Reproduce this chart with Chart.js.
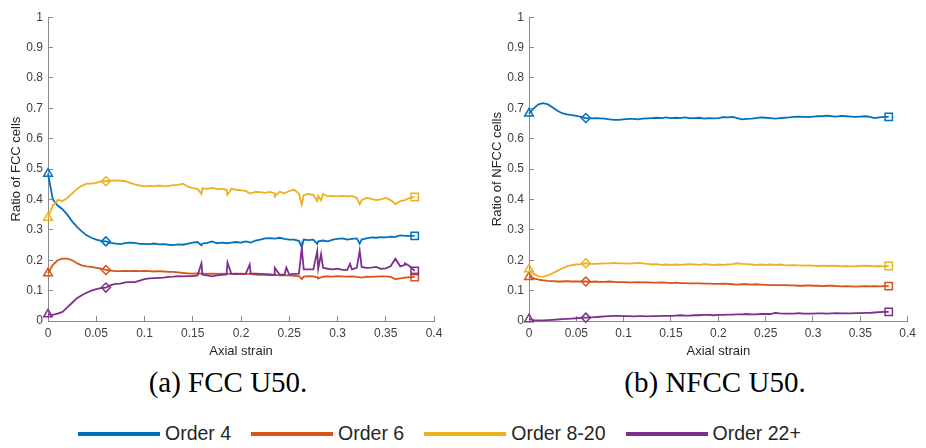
<!DOCTYPE html>
<html>
<head>
<meta charset="utf-8">
<script src="https://cdn.jsdelivr.net/npm/chart.js@4.4.0/dist/chart.umd.min.js"></script>
<style>
  body { margin: 0; background: #fff; width: 926px; height: 448px; overflow: hidden; position: relative; font-family: "Liberation Sans", Arial, sans-serif; }
  .plot { position: absolute; top: 0; height: 360px; }
  #fccBox { left: 0; width: 460px; }
  #nfccBox { left: 481px; width: 445px; }
  .caption { position: absolute; top: 366px; font-family: "Liberation Serif", serif; font-size: 29px; color: #000; transform: translateX(-50%); white-space: nowrap; }
  #legend { position: absolute; left: 78px; top: 422px; display: flex; align-items: center; font-size: 19.5px; color: #262626; }
  .item { display: flex; align-items: center; margin-right: 20px; }
  .swatch { width: 82px; height: 4px; margin-right: 5px; }
</style>
</head>
<body>
<div class="plot" id="fccBox"><canvas id="fccChart"></canvas></div>
<div class="plot" id="nfccBox"><canvas id="nfccChart"></canvas></div>
<div class="caption" style="left:228px">(a) FCC U50.</div>
<div class="caption" style="left:715px">(b) NFCC U50.</div>
<div id="legend"></div>

<script>
// series names + matlab default colours
const seriesNames = ['Order 4', 'Order 6', 'Order 8-20', 'Order 22+'];
const seriesColors = ['#0072BD', '#D95319', '#EDB120', '#7E2F8E'];

// axial strain samples
const strain = [
  0, 0.005, 0.01, 0.015, 0.02, 0.025, 0.03, 0.035, 0.04, 0.045,
  0.05, 0.055, 0.06, 0.065, 0.07, 0.075, 0.08, 0.085, 0.09, 0.095,
  0.1, 0.105, 0.11, 0.115, 0.12, 0.125, 0.13, 0.135, 0.14, 0.145,
  0.15, 0.155, 0.16, 0.165, 0.17, 0.175, 0.18, 0.185, 0.19, 0.195,
  0.2, 0.205, 0.21, 0.215, 0.22, 0.225, 0.23, 0.235, 0.24, 0.245,
  0.25, 0.255, 0.26, 0.265, 0.27, 0.275, 0.28, 0.285, 0.29, 0.295,
  0.3, 0.305, 0.31, 0.315, 0.32, 0.325, 0.33, 0.335, 0.34, 0.345,
  0.35, 0.355, 0.36, 0.365, 0.37, 0.375, 0.38
];

// (a) FCC U50
const fccOrder4 = [
  0.485, 0.40, 0.38, 0.368, 0.35, 0.328, 0.31, 0.295, 0.282, 0.274,
  0.268, 0.264, 0.262, 0.257, 0.255, 0.253, 0.256, 0.258, 0.257, 0.254,
  0.254, 0.253, 0.255, 0.252, 0.253, 0.251, 0.25, 0.252, 0.251, 0.255,
  0.258, 0.26, 0.255, 0.257, 0.262, 0.256, 0.258, 0.256, 0.258, 0.26,
  0.258, 0.262, 0.258, 0.265, 0.268, 0.272, 0.273, 0.271, 0.274, 0.27,
  0.268, 0.268, 0.264, 0.268, 0.266, 0.268, 0.262, 0.265, 0.262, 0.268,
  0.27, 0.272, 0.268, 0.27, 0.272, 0.268, 0.272, 0.275, 0.274, 0.276,
  0.275, 0.278, 0.277, 0.282, 0.28, 0.28, 0.28
];
const fccOrder6 = [
  0.157, 0.185, 0.2, 0.205, 0.205, 0.2, 0.19, 0.183, 0.18, 0.178,
  0.175, 0.172, 0.168, 0.166, 0.164, 0.164, 0.165, 0.164, 0.165, 0.164,
  0.165, 0.164, 0.163, 0.164, 0.163, 0.162, 0.162, 0.16, 0.158, 0.157,
  0.156, 0.157, 0.156, 0.155, 0.156, 0.155, 0.156, 0.155, 0.156, 0.154,
  0.156, 0.155, 0.154, 0.153, 0.152, 0.152, 0.151, 0.152, 0.15, 0.151,
  0.15, 0.149, 0.148, 0.146, 0.148, 0.147, 0.143, 0.146, 0.147, 0.146,
  0.148, 0.147, 0.146, 0.147, 0.145, 0.143, 0.146, 0.145, 0.146, 0.147,
  0.147, 0.145, 0.138, 0.14, 0.143, 0.144, 0.145
];
const fccOrder820 = [
  0.34, 0.38, 0.398, 0.395, 0.405, 0.42, 0.435, 0.445, 0.452, 0.452,
  0.455, 0.46, 0.46, 0.462, 0.463, 0.462, 0.46, 0.455, 0.45, 0.446,
  0.443, 0.445, 0.443, 0.446, 0.443, 0.445, 0.447, 0.448, 0.452, 0.442,
  0.437, 0.435, 0.437, 0.435, 0.438, 0.434, 0.436, 0.432, 0.435, 0.432,
  0.43, 0.428, 0.42, 0.425, 0.424, 0.422, 0.425, 0.42, 0.425, 0.42,
  0.428, 0.432, 0.42, 0.415, 0.418, 0.415, 0.412, 0.418, 0.41, 0.412,
  0.41, 0.412, 0.41, 0.412, 0.405, 0.398, 0.405, 0.402, 0.398, 0.4,
  0.405, 0.398, 0.385, 0.395, 0.398, 0.405, 0.408
];
const fccOrder22 = [
  0.022, 0.02, 0.024, 0.03, 0.045, 0.06, 0.075, 0.085, 0.093, 0.1,
  0.105, 0.108, 0.11, 0.118, 0.122, 0.123, 0.127, 0.128, 0.128, 0.133,
  0.138, 0.14, 0.141, 0.142, 0.143, 0.145, 0.146, 0.148, 0.147, 0.148,
  0.148, 0.15, 0.152, 0.15, 0.147, 0.15, 0.152, 0.153, 0.155, 0.156,
  0.155, 0.156, 0.157, 0.156, 0.155, 0.154, 0.153, 0.152, 0.153, 0.152,
  0.153, 0.155, 0.156, 0.17, 0.17, 0.17, 0.172, 0.175, 0.172, 0.17,
  0.172, 0.168, 0.168, 0.17, 0.175, 0.178, 0.175, 0.176, 0.178, 0.172,
  0.173, 0.18, 0.205, 0.18, 0.185, 0.18, 0.165
];

// narrow spikes / dips between samples in (a)
const fcc4SpikeX = [0.159, 0.263, 0.279, 0.323];
const fcc4SpikeY = [0.249, 0.243, 0.254, 0.255];
const fcc6SpikeX = [0.263, 0.28];
const fcc6SpikeY = [0.138, 0.14];
const fcc820SpikeX = [0.159, 0.186, 0.209, 0.235, 0.263, 0.279, 0.283, 0.323];
const fcc820SpikeY = [0.418, 0.415, 0.42, 0.41, 0.383, 0.395, 0.397, 0.384];
const fcc22SpikeX = [0.159, 0.186, 0.209, 0.235, 0.247, 0.263, 0.279, 0.283, 0.313, 0.323, 0.37];
const fcc22SpikeY = [0.19, 0.192, 0.186, 0.175, 0.176, 0.24, 0.23, 0.22, 0.188, 0.232, 0.19];

// (b) NFCC U50
const nfccOrder4 = [
  0.683, 0.70, 0.713, 0.717, 0.713, 0.703, 0.692, 0.684, 0.68, 0.678,
  0.675, 0.672, 0.668, 0.667, 0.668, 0.667, 0.666, 0.664, 0.662, 0.662,
  0.664, 0.665, 0.665, 0.664, 0.666, 0.667, 0.668, 0.669, 0.668, 0.67,
  0.668, 0.669, 0.668, 0.67, 0.668, 0.668, 0.669, 0.666, 0.668, 0.667,
  0.668, 0.671, 0.67, 0.672, 0.668, 0.664, 0.665, 0.666, 0.668, 0.67,
  0.669, 0.668, 0.666, 0.668, 0.669, 0.67, 0.672, 0.673, 0.672, 0.671,
  0.673, 0.674, 0.674, 0.676, 0.674, 0.673, 0.675, 0.674, 0.673, 0.672,
  0.673, 0.674, 0.672, 0.668, 0.67, 0.672, 0.672
];
const nfccOrder6 = [
  0.145, 0.14, 0.136, 0.134, 0.132, 0.131, 0.13, 0.13, 0.131, 0.13,
  0.13, 0.13, 0.13, 0.129, 0.13, 0.129, 0.129, 0.13, 0.129, 0.128,
  0.128, 0.127, 0.127, 0.128, 0.127, 0.127, 0.126, 0.126, 0.127, 0.126,
  0.125, 0.126, 0.125, 0.125, 0.124, 0.124, 0.124, 0.123, 0.123, 0.122,
  0.122, 0.123, 0.122, 0.121, 0.12, 0.121, 0.121, 0.12, 0.121, 0.12,
  0.119, 0.118, 0.118, 0.118, 0.118, 0.117, 0.117, 0.116, 0.116, 0.117,
  0.116, 0.116, 0.115, 0.116, 0.116, 0.115, 0.114, 0.115, 0.114, 0.113,
  0.114, 0.115, 0.114, 0.115, 0.114, 0.115, 0.115
];
const nfccOrder820 = [
  0.17, 0.155, 0.147, 0.146, 0.15, 0.157, 0.165, 0.173, 0.18, 0.184,
  0.186, 0.187, 0.19, 0.188, 0.188, 0.189, 0.19, 0.19, 0.191, 0.19,
  0.19, 0.189, 0.19, 0.191, 0.19, 0.188, 0.186, 0.187, 0.185, 0.186,
  0.185, 0.186, 0.185, 0.186, 0.187, 0.186, 0.185, 0.187, 0.186, 0.184,
  0.186, 0.185, 0.186, 0.187, 0.19, 0.188, 0.187, 0.186, 0.185, 0.186,
  0.185, 0.186, 0.185, 0.186, 0.184, 0.183, 0.184, 0.183, 0.182, 0.183,
  0.182, 0.181, 0.182, 0.181, 0.182, 0.181, 0.18, 0.181, 0.18, 0.18,
  0.181, 0.182, 0.181, 0.18, 0.181, 0.18, 0.181
];
const nfccOrder22 = [
  0.006, 0.003, 0.002, 0.002, 0.003, 0.004, 0.005, 0.006, 0.007, 0.008,
  0.009, 0.01, 0.011, 0.012, 0.013, 0.014, 0.015, 0.016, 0.017, 0.017,
  0.016, 0.016, 0.015, 0.016, 0.016, 0.015, 0.016, 0.016, 0.017, 0.017,
  0.017, 0.018, 0.019, 0.018, 0.018, 0.019, 0.019, 0.02, 0.02, 0.019,
  0.02, 0.02, 0.021, 0.021, 0.022, 0.022, 0.023, 0.022, 0.022, 0.023,
  0.023, 0.023, 0.027, 0.025, 0.024, 0.024, 0.024, 0.026, 0.024, 0.024,
  0.024, 0.025, 0.025, 0.024, 0.025, 0.026, 0.025, 0.025, 0.025, 0.026,
  0.026, 0.027, 0.027, 0.028, 0.029, 0.03, 0.03
];

// marker positions (triangle at start, diamond at 0.06, square at end)
const markerStrain = [0, 0.06, 0.38];
const markerStyle = ['triangle', 'rectRot', 'rect'];
const markerRadius = [5, 4.5, 5.2];

const axisGrey = '#8c8c8c';
const textGrey = '#404040';

function toPoints(xs, ys, sx, sy) {
  const pts = xs.map((x, i) => ({ x: x, y: ys[i] }));
  (sx || []).forEach((x, i) => pts.push({ x: x, y: sy[i] }));
  return pts.sort((a, b) => a.x - b.x);
}

function markerIndex(ctx) {
  if (!ctx.raw) return -1;
  return markerStrain.findIndex(m => Math.abs(m - ctx.raw.x) < 1e-9);
}

function makeDataset(i, points) {
  return {
    label: seriesNames[i],
    data: points,
    borderColor: seriesColors[i],
    backgroundColor: 'rgba(0,0,0,0)',
    borderWidth: 1.8,
    tension: 0,
    clip: false,
    order: 3 - i, // purple drawn on top, like matlab
    pointStyle: ctx => { const k = markerIndex(ctx); return k < 0 ? 'circle' : markerStyle[k]; },
    pointRadius: ctx => { const k = markerIndex(ctx); return k < 0 ? 0 : markerRadius[k]; },
    pointBorderWidth: 1.5,
    pointBorderColor: seriesColors[i],
    pointBackgroundColor: 'rgba(0,0,0,0)',
    pointHoverRadius: 0
  };
}

function makeChart(id, yTitle, datasets) {
  return new Chart(document.getElementById(id), {
    type: 'line',
    data: { datasets: datasets },
    options: {
      responsive: true,
      maintainAspectRatio: false,
      animation: false,
      events: [],
      layout: { padding: { top: 16, right: id === 'fccChart' ? 26 : 12, left: 0, bottom: 0 } },
      plugins: { legend: { display: false }, tooltip: { enabled: false } },
      scales: {
        x: {
          type: 'linear', min: 0, max: 0.4,
          afterFit: s => { s.height = 39; },
          border: { display: true, color: axisGrey },
          grid: { drawOnChartArea: false, drawTicks: true, tickLength: -5, color: axisGrey },
          ticks: { stepSize: 0.05, padding: 10, color: textGrey, maxRotation: 0,
                   font: { family: 'Liberation Sans', size: 12 },
                   callback: v => +v.toFixed(2) },
          title: { display: true, text: 'Axial strain', color: '#262626',
                   font: { family: 'Liberation Sans', size: 13 }, padding: { top: 0, bottom: 1 } }
        },
        y: {
          min: 0, max: 1,
          afterFit: s => { s.width = 48; },
          border: { display: true, color: axisGrey },
          grid: { drawOnChartArea: false, drawTicks: true, tickLength: -5, color: axisGrey },
          ticks: { stepSize: 0.1, padding: 10, color: textGrey,
                   font: { family: 'Liberation Sans', size: 12 },
                   callback: v => +v.toFixed(1) },
          title: { display: true, text: yTitle, color: '#262626',
                   font: { family: 'Liberation Sans', size: 13 }, padding: { top: 9, bottom: 0 } }
        }
      }
    }
  });
}

makeChart('fccChart', 'Ratio of FCC cells', [
  makeDataset(0, toPoints(strain, fccOrder4, fcc4SpikeX, fcc4SpikeY)),
  makeDataset(1, toPoints(strain, fccOrder6, fcc6SpikeX, fcc6SpikeY)),
  makeDataset(2, toPoints(strain, fccOrder820, fcc820SpikeX, fcc820SpikeY)),
  makeDataset(3, toPoints(strain, fccOrder22, fcc22SpikeX, fcc22SpikeY))
]);

makeChart('nfccChart', 'Ratio of NFCC cells', [
  makeDataset(0, toPoints(strain, nfccOrder4)),
  makeDataset(1, toPoints(strain, nfccOrder6)),
  makeDataset(2, toPoints(strain, nfccOrder820)),
  makeDataset(3, toPoints(strain, nfccOrder22))
]);

// shared legend under both panels
const legend = document.getElementById('legend');
seriesNames.forEach((name, i) => {
  const item = document.createElement('div');
  item.className = 'item';
  item.innerHTML = '<span class="swatch" style="background:' + seriesColors[i] + '"></span><span>' + name + '</span>';
  legend.appendChild(item);
});
</script>
</body>
</html>
